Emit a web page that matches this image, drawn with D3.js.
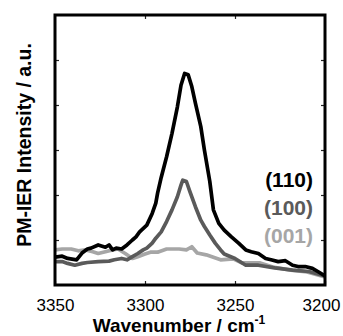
<!DOCTYPE html>
<html>
<head>
<meta charset="utf-8">
<script src="https://cdn.jsdelivr.net/npm/d3@7"></script>
<style>
  html, body { margin: 0; padding: 0; background: #fff; }
  svg { display: block; font-family: Arial, "Liberation Sans", Helvetica, sans-serif; }
</style>
</head>
<body>
<svg id="chart"></svg>
<script>
// (110) spectrum
const wn110 = [3350, 3346, 3343, 3338, 3335, 3332, 3330, 3326, 3322, 3320, 3318, 3316, 3313, 3310, 3307, 3305,
  3303, 3299, 3296, 3294, 3293, 3291, 3288, 3285, 3282, 3280, 3278, 3276, 3274, 3272, 3269, 3267, 3264, 3262,
  3259, 3256, 3252, 3248, 3244, 3241, 3237, 3233, 3230, 3226, 3222, 3218, 3215, 3211, 3207, 3204, 3200];
const int110 = [0.62, 0.64, 0.59, 0.56, 0.71, 0.80, 0.82, 0.89, 0.84, 0.89, 0.78, 0.82, 0.80, 0.89, 1.00, 1.07,
  1.18, 1.33, 1.59, 1.82, 2.04, 2.39, 2.85, 3.37, 3.96, 4.44, 4.70, 4.67, 4.41, 4.04, 3.52, 3.00, 2.30, 1.67,
  1.37, 1.22, 1.07, 0.93, 0.78, 0.74, 0.70, 0.59, 0.56, 0.52, 0.54, 0.44, 0.41, 0.41, 0.37, 0.30, 0.20];

// (100) spectrum
const wn100 = [3350, 3346, 3343, 3339, 3335, 3332, 3326, 3320, 3317, 3313, 3310, 3307, 3304, 3301, 3299, 3296,
  3294, 3291, 3288, 3285, 3282, 3280, 3279, 3277, 3275, 3272, 3269, 3267, 3264, 3261, 3258, 3256, 3250, 3244,
  3237, 3228, 3218, 3209, 3200];
const int100 = [0.52, 0.52, 0.48, 0.44, 0.48, 0.50, 0.52, 0.53, 0.56, 0.59, 0.56, 0.63, 0.70, 0.78, 0.82, 0.93,
  1.04, 1.18, 1.41, 1.67, 1.96, 2.22, 2.33, 2.30, 2.07, 1.74, 1.44, 1.30, 1.11, 0.93, 0.78, 0.69, 0.59, 0.44,
  0.44, 0.38, 0.33, 0.30, 0.20];

// (001) spectrum
const wn001 = [3350, 3346, 3341, 3337, 3333, 3329, 3326, 3322, 3318, 3315, 3311, 3307, 3304, 3300, 3297, 3293,
  3288, 3281, 3277, 3274, 3271, 3266, 3258, 3251, 3246, 3236, 3229, 3219, 3210, 3200];
const int001 = [0.78, 0.80, 0.80, 0.76, 0.78, 0.74, 0.70, 0.74, 0.78, 0.80, 0.70, 0.59, 0.63, 0.69, 0.73, 0.73,
  0.80, 0.80, 0.78, 0.85, 0.71, 0.67, 0.56, 0.58, 0.49, 0.49, 0.40, 0.33, 0.29, 0.18];

const xTicks = [3350, 3300, 3250, 3200];
const yTicks = [1, 2, 3, 4, 5];
const seriesNames = ['(110)', '(100)', '(001)'];
const seriesColors = ['#000000', '#5a5a5a', '#a6a6a6'];

const width = 343, height = 336;
const margin = { top: 15, right: 18, bottom: 51, left: 55 };
const innerW = width - margin.left - margin.right;
const innerH = height - margin.top - margin.bottom;

const svg = d3.select('#chart').attr('width', width).attr('height', height);
const g = svg.append('g').attr('transform', `translate(${margin.left},${margin.top})`);

const x = d3.scaleLinear().domain([3350, 3200]).range([0, innerW]);
const y = d3.scaleLinear().domain([0, 6]).range([innerH, 0]);

// inward ticks on all four sides
const tickLen = 4;
g.append('g')
  .attr('transform', `translate(0,${innerH})`)
  .call(d3.axisBottom(x).tickValues(xTicks).tickSizeInner(-tickLen).tickSizeOuter(0).tickPadding(14).tickFormat(d3.format('d')))
  .call(a => a.select('.domain').remove())
  .call(a => a.selectAll('text').attr('font-size', 17).attr('fill', '#000'))
  .call(a => a.selectAll('text').filter(d => d === 3200).attr('dx', -4));

g.append('g')
  .call(d3.axisTop(x).tickValues(xTicks.slice(1, 3)).tickSizeInner(-tickLen).tickSizeOuter(0).tickFormat(''))
  .call(a => a.select('.domain').remove());

g.append('g')
  .call(d3.axisLeft(y).tickValues(yTicks).tickSizeInner(-tickLen).tickSizeOuter(0).tickFormat(''))
  .call(a => a.select('.domain').remove());

g.append('g')
  .attr('transform', `translate(${innerW},0)`)
  .call(d3.axisRight(y).tickValues(yTicks).tickSizeInner(-tickLen).tickSizeOuter(0).tickFormat(''))
  .call(a => a.select('.domain').remove());

g.selectAll('.tick line').attr('stroke', '#222').attr('stroke-width', 1.2);

// spectra
const series = [
  { wn: wn001, val: int001, color: seriesColors[2] },
  { wn: wn100, val: int100, color: seriesColors[1] },
  { wn: wn110, val: int110, color: seriesColors[0] }
];

const line = d3.line().x(d => x(d[0])).y(d => y(d[1]));

g.append('clipPath').attr('id', 'clip')
  .append('rect').attr('width', innerW).attr('height', innerH);

g.append('g').attr('clip-path', 'url(#clip)')
  .selectAll('path')
  .data(series)
  .enter()
  .append('path')
  .attr('d', s => line(s.wn.map((w, i) => [w, s.val[i]])))
  .attr('fill', 'none')
  .attr('stroke', s => s.color)
  .attr('stroke-width', 3.7)
  .attr('stroke-linejoin', 'round');

// frame
g.append('rect')
  .attr('width', innerW).attr('height', innerH)
  .attr('fill', 'none').attr('stroke', '#000').attr('stroke-width', 3);

// legend labels
g.selectAll('.leg')
  .data(seriesNames)
  .enter()
  .append('text')
  .attr('class', 'leg')
  .attr('x', innerW - 12)
  .attr('y', (d, i) => 172 + i * 28)
  .attr('text-anchor', 'end')
  .attr('font-size', 21)
  .attr('font-weight', 'bold')
  .attr('fill', (d, i) => seriesColors[i])
  .text(d => d);

// axis titles
const xt = svg.append('text')
  .attr('x', margin.left + innerW / 2 - 11)
  .attr('y', 332)
  .attr('text-anchor', 'middle')
  .attr('font-size', 19)
  .attr('font-weight', 'bold')
  .text('Wavenumber / cm');
xt.append('tspan').attr('font-size', 12).attr('dy', -8).text('-1');

svg.append('text')
  .attr('transform', `translate(31,${margin.top + innerH / 2 - 5}) rotate(-90)`)
  .attr('text-anchor', 'middle')
  .attr('font-size', 19.5)
  .attr('font-weight', 'bold')
  .text('PM-IER Intensity / a.u.');
</script>
</body>
</html>
